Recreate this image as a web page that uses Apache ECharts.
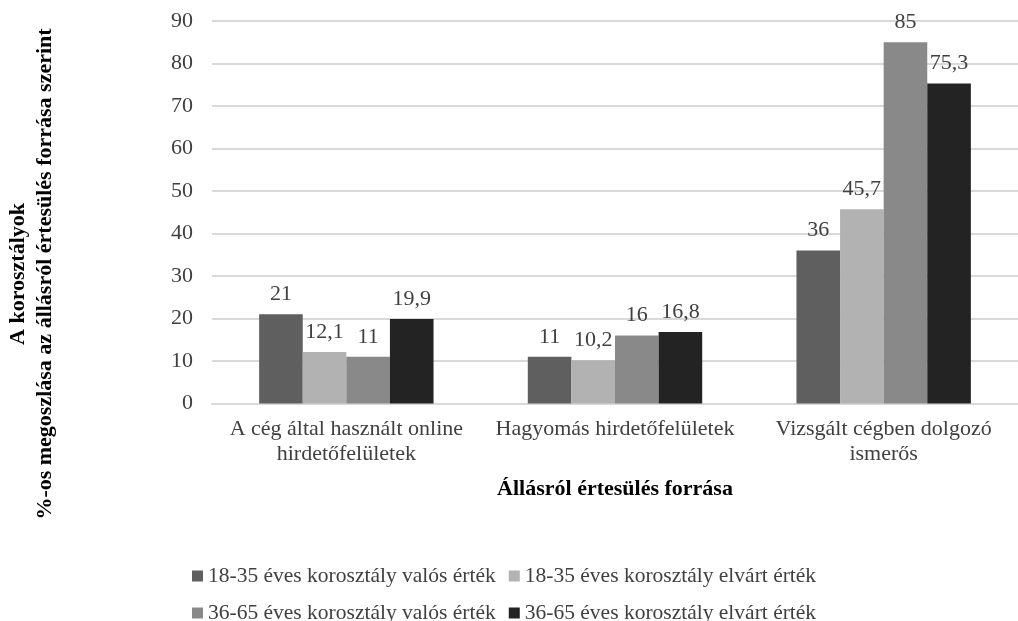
<!DOCTYPE html>
<html>
<head>
<meta charset="utf-8">
<script src="https://cdn.jsdelivr.net/npm/echarts@6/dist/echarts.min.js"></script>
<style>
  html, body { margin: 0; padding: 0; background: #fff; }
  #chart { width: 1018px; height: 621px; }
</style>
</head>
<body>
<div id="chart"></div>
<script>
// Job-information source categories
const categories = [
  'A cég által használt online\nhirdetőfelületek',
  'Hagyomás hirdetőfelületek',
  'Vizsgált cégben dolgozó\nismerős'
];

// Series names and values (%)
const seriesNames = [
  '18-35 éves korosztály valós érték',
  '18-35 éves korosztály elvárt érték',
  '36-65 éves korosztály valós érték',
  '36-65 éves korosztály elvárt érték'
];
const young_actual   = [21, 11, 36];
const young_expected = [12.1, 10.2, 45.7];
const old_actual     = [11, 16, 85];
const old_expected   = [19.9, 16.8, 75.3];

const seriesColors = ['#5f5f5f', '#b2b2b2', '#898989', '#232323'];

// Y axis range
const yMin = 0, yMax = 90, yStep = 10;

const FONT = '"Liberation Serif", "Times New Roman", serif';
const FS = 22;
const seriesData = [young_actual, young_expected, old_actual, old_expected];

const legendStyle = {
  itemWidth: 11, itemHeight: 11, itemGap: 13,
  icon: 'rect',
  textStyle: { fontFamily: FONT, fontSize: 21.5, color: '#404040' }
};

const chart = echarts.init(document.getElementById('chart'));

chart.setOption({
  animation: false,
  backgroundColor: '#ffffff',
  textStyle: { fontFamily: FONT },
  grid: { left: 212, top: 21, width: 809, height: 382.5 },
  legend: [
    Object.assign({ data: seriesNames.slice(0, 2), left: 187, top: 560 }, legendStyle),
    Object.assign({ data: seriesNames.slice(2, 4), left: 187, top: 597 }, legendStyle)
  ],
  xAxis: {
    type: 'category',
    data: categories,
    name: 'Állásról értesülés forrása',
    nameLocation: 'middle',
    nameGap: 75,
    nameTextStyle: { fontFamily: FONT, fontSize: FS, fontWeight: 'bold', color: '#000' },
    axisLine: { show: true, lineStyle: { color: '#d9d9d9', width: 2 } },
    axisTick: { show: false },
    axisLabel: {
      fontFamily: FONT, fontSize: FS, color: '#404040',
      margin: 13, lineHeight: 25, interval: 0
    }
  },
  yAxis: {
    type: 'value',
    min: yMin, max: yMax, interval: yStep,
    axisLine: { show: false },
    axisTick: { show: false },
    axisLabel: { fontFamily: FONT, fontSize: FS, color: '#404040', margin: 19 },
    splitLine: { lineStyle: { color: '#d9d9d9', width: 2 } }
  },
  series: seriesNames.map((name, i) => ({
    name: name,
    type: 'bar',
    data: seriesData[i],
    barWidth: 43.6,
    barGap: '0%',
    itemStyle: { color: seriesColors[i] },
    label: {
      show: true,
      position: 'top',
      distance: 9,
      fontFamily: FONT,
      fontSize: FS,
      color: '#404040',
      formatter: p => String(p.value).replace('.', ',')
    }
  })),
  graphic: [
    {
      type: 'text',
      x: 32, y: 274,
      rotation: Math.PI / 2,
      style: {
        text: 'A korosztályok\n%-os megoszlása az állásról értesülés forrása szerint',
        fontFamily: FONT,
        fontSize: 22,
        fontWeight: 'bold',
        lineHeight: 27,
        fill: '#000',
        align: 'center',
        verticalAlign: 'middle'
      }
    }
  ]
});
</script>
</body>
</html>
